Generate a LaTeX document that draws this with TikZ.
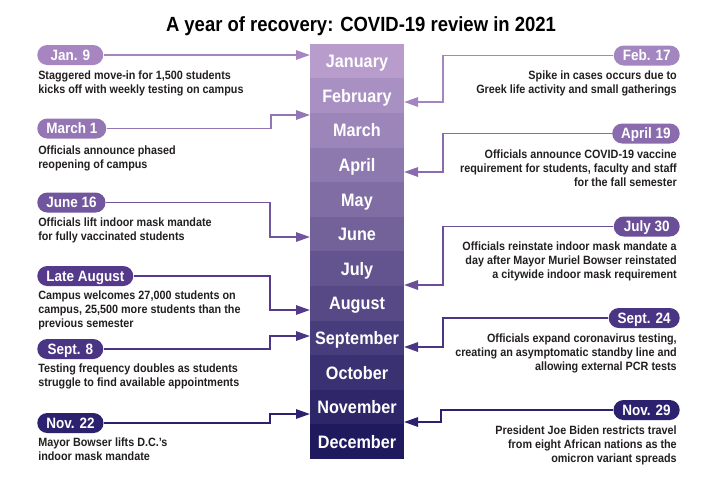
\documentclass[tikz,border=0pt]{standalone}
\usepackage{fontspec}
\setmainfont{Liberation Sans}[FakeStretch=0.9]
\usetikzlibrary{arrows.meta}
\definecolor{mA}{HTML}{B79CCC}
\definecolor{mZ}{HTML}{1F1A5E}
\colorlet{m1}{mZ!0!mA}
\colorlet{m2}{mZ!9!mA}
\colorlet{m3}{mZ!18!mA}
\colorlet{m4}{mZ!27!mA}
\colorlet{m5}{mZ!36!mA}
\colorlet{m6}{mZ!45!mA}
\colorlet{m7}{mZ!55!mA}
\colorlet{m8}{mZ!64!mA}
\colorlet{m9}{mZ!73!mA}
\colorlet{m10}{mZ!82!mA}
\colorlet{m11}{mZ!91!mA}
\colorlet{m12}{mZ!100!mA}
\definecolor{pJan}{HTML}{A785C1}
\definecolor{pFeb}{HTML}{A386C0}
\definecolor{pMar}{HTML}{9576B4}
\definecolor{pApr}{HTML}{8A6CAE}
\definecolor{pJun}{HTML}{71559D}
\definecolor{pJul}{HTML}{6A4F98}
\definecolor{pAug}{HTML}{55398A}
\definecolor{pSep}{HTML}{4A3585}
\definecolor{pNov}{HTML}{2B216E}
\definecolor{txt}{HTML}{231F20}
\tikzset{
  month/.style={fill=#1, text=white, minimum width=70.5pt, minimum height=26.1pt,
    inner sep=0pt, font=\fontsize{13.5}{15}\selectfont\bfseries, text height=9.7pt, text depth=0pt},
  pill/.style={fill=#1, text=white, rounded corners=7.5pt, minimum width=49.5pt,
    minimum height=15pt, inner xsep=6.75pt, inner ysep=0pt,
    font=\fontsize{11.25}{13}\selectfont\bfseries, text height=8pt, text depth=0pt},
  descl/.style={text=txt, inner sep=0pt, align=left, anchor=north west,
    font=\fontsize{9}{10.5}\selectfont\bfseries},
  descr/.style={text=txt, inner sep=0pt, align=right, anchor=north east,
    font=\fontsize{9}{10.5}\selectfont\bfseries},
  conn/.style={draw=#1, line width=1.4pt, -{Triangle[length=10.5pt,width=7pt]}}
}
\begin{document}
\begin{tikzpicture}[x=0.75pt,y=-0.75pt]
\useasboundingbox (0,0) rectangle (720,480);
\node[anchor=base, text=black, font=\fontsize{15.4}{18}\selectfont\bfseries] (title) at (361,31)
  {A year of recovery: COVID-19 review in 2021};
% month column
\foreach \m [count=\i] in {January,February,March,April,May,June,July,August,September,October,November,December}
  \node[month=m\i] (mon\i) at (357,{44+34.583*(\i-0.5)}) {\m};
% left events
\node[pill=pJan, anchor=west] (l1) at (37,55) {Jan. 9};
\node[descl] (dl1) at (38,71) {Staggered move-in for 1,500 students\\kicks off with weekly testing on campus};
\node[pill=pMar, anchor=west] (l2) at (37,128.5) {March 1};
\node[descl] (dl2) at (38,146) {Officials announce phased\\reopening of campus};
\node[pill=pJun, anchor=west] (l3) at (37,202.5) {June 16};
\node[descl] (dl3) at (38,218) {Officials lift indoor mask mandate\\for fully vaccinated students};
\node[pill=pAug, anchor=west] (l4) at (37,276) {Late August};
\node[descl] (dl4) at (38,291) {Campus welcomes 27,000 students on\\campus, 25,500 more students than the\\previous semester};
\node[pill=pSep, anchor=west] (l5) at (37,349) {Sept. 8};
\node[descl] (dl5) at (38,364) {Testing frequency doubles as students\\struggle to find available appointments};
\node[pill=pNov, anchor=west] (l6) at (37,423) {Nov. 22};
\node[descl] (dl6) at (38,438) {Mayor Bowser lifts D.C.’s\\indoor mask mandate};
% right events
\node[pill=pFeb, anchor=east] (r1) at (680,55.5) {Feb. 17};
\node[descr] (dr1) at (677,71) {Spike in cases occurs due to\\Greek life activity and small gatherings};
\node[pill=pApr, anchor=east] (r2) at (680,133.5) {April 19};
\node[descr] (dr2) at (677,150) {Officials announce COVID-19 vaccine\\requirement for students, faculty and staff\\for the fall semester};
\node[pill=pJul, anchor=east] (r3) at (680,226.5) {July 30};
\node[descr] (dr3) at (677,242) {Officials reinstate indoor mask mandate a\\day after Mayor Muriel Bowser reinstated\\a citywide indoor mask requirement};
\node[pill=pSep, anchor=east] (r4) at (680,318) {Sept. 24};
\node[descr] (dr4) at (677,334) {Officials expand coronavirus testing,\\creating an asymptomatic standby line and\\allowing external PCR tests};
\node[pill=pNov, anchor=east] (r5) at (680,410) {Nov. 29};
\node[descr] (dr5) at (677,426) {President Joe Biden restricts travel\\from eight African nations as the\\omicron variant spreads};
% connector end points and elbows
\coordinate (tl1) at (310,55);
\coordinate (tl2) at (310,115);  \coordinate (el2) at (271,0);
\coordinate (tl3) at (310,237);  \coordinate (el3) at (270,0);
\coordinate (tl4) at (310,310);  \coordinate (el4) at (270,0);
\coordinate (tl5) at (310,336);  \coordinate (el5) at (270,0);
\coordinate (tl6) at (310,414);  \coordinate (el6) at (270,0);
\coordinate (tr1) at (404,102);  \coordinate (er1) at (443,0);
\coordinate (tr2) at (404,172);  \coordinate (er2) at (443,0);
\coordinate (tr3) at (404,285);  \coordinate (er3) at (443,0);
\coordinate (tr4) at (404,347);  \coordinate (er4) at (443,0);
\coordinate (tr5) at (404,422);  \coordinate (er5) at (441,0);
% connectors
\draw[conn=pJan] (l1.east) -- (tl1);
\draw[conn=pMar] (l2.east) -- (l2.east -| el2) |- (tl2);
\draw[conn=pJun] (l3.east) -- (l3.east -| el3) |- (tl3);
\draw[conn=pAug] (l4.east) -- (l4.east -| el4) |- (tl4);
\draw[conn=pSep] (l5.east) -- (l5.east -| el5) |- (tl5);
\draw[conn=pNov] (l6.east) -- (l6.east -| el6) |- (tl6);
\draw[conn=pFeb] (r1.west) -- (r1.west -| er1) |- (tr1);
\draw[conn=pApr] (r2.west) -- (r2.west -| er2) |- (tr2);
\draw[conn=pJul] (r3.west) -- (r3.west -| er3) |- (tr3);
\draw[conn=pSep] (r4.west) -- (r4.west -| er4) |- (tr4);
\draw[conn=pNov] (r5.west) -- (r5.west -| er5) |- (tr5);
\end{tikzpicture}
\end{document}
